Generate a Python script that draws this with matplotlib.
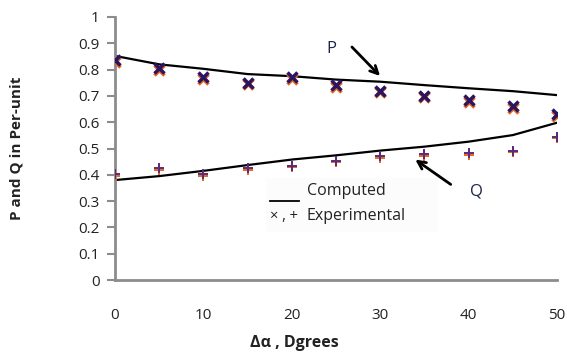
import matplotlib
matplotlib.use("Agg")
import matplotlib.pyplot as plt
import matplotlib.transforms as mtransforms
from matplotlib.patches import Rectangle

angle = [0, 5, 10, 15, 20, 25, 30, 35, 40, 45, 50]
p_computed = [0.852, 0.820, 0.803, 0.783, 0.775, 0.762, 0.754, 0.741, 0.729, 0.718, 0.703]
q_computed = [0.380, 0.395, 0.415, 0.437, 0.458, 0.474, 0.492, 0.507, 0.526, 0.551, 0.598]
p_experimental = [0.836, 0.805, 0.770, 0.750, 0.770, 0.740, 0.720, 0.700, 0.684, 0.660, 0.630]
q_experimental = [0.403, 0.424, 0.403, 0.424, 0.435, 0.453, 0.471, 0.479, 0.482, 0.492, 0.545]
x_ticks = [0, 10, 20, 30, 40, 50]
y_ticks = [0, 0.1, 0.2, 0.3, 0.4, 0.5, 0.6, 0.7, 0.8, 0.9, 1]

plt.rcParams['font.family'] = ['Open Sans', 'DejaVu Sans']

fig = plt.figure(figsize=(5.67, 3.53), dpi=100)
ax = fig.add_axes([115/567, 73/353, 442/567, 263/353])

ax.plot(angle, p_computed, color='black', lw=1.6, zorder=2)
ax.plot(angle, q_computed, color='black', lw=1.6, zorder=2)

shadow = ax.transData + mtransforms.ScaledTranslation(0, -1.5/100, fig.dpi_scale_trans)
ax.plot(angle, p_experimental, ls='none', marker='x', ms=7.5, mew=2.5, color='#e8651e', transform=shadow, zorder=3)
ax.plot(angle, p_experimental, ls='none', marker='x', ms=7.5, mew=2.5, color='#2a1660', zorder=4)
ax.plot(angle, q_experimental, ls='none', marker='+', ms=7, mew=1.4, color='#e8651e', transform=shadow, zorder=3)
ax.plot(angle, q_experimental, ls='none', marker='+', ms=7, mew=1.4, color='#5a2a78', zorder=4)

ax.set_xlim(0, 50)
ax.set_ylim(0, 1)
ax.set_xticks(x_ticks)
ax.set_yticks(y_ticks)
ax.set_yticklabels([f"{v:g}" for v in y_ticks])
for s in ['top', 'right']:
    ax.spines[s].set_visible(False)
for s in ['left', 'bottom']:
    ax.spines[s].set_color('#8c8c8c')
    ax.spines[s].set_linewidth(2)
ax.tick_params(axis='y', direction='out', length=6, width=1.5, color='#8c8c8c', labelsize=11, labelcolor='#222222', pad=5)
ax.tick_params(axis='x', length=0, labelsize=11, labelcolor='#222222', pad=20)

fig.text(17/567, 1 - 148/353, 'P and Q in Per-unit', rotation=90, ha='center', va='center', fontsize=11, fontweight='bold', color='#222222')
fig.text(294/567, 1 - 343/353, 'Δα , Dgrees', ha='center', va='center', fontsize=11.5, fontweight='bold', color='#222222')

def px(x, y):
    return (x/567, 1 - y/353)

ax.annotate('', xy=px(382, 78), xycoords='figure fraction', xytext=px(350, 45), textcoords='figure fraction',
            arrowprops=dict(arrowstyle='->', color='black', lw=2, mutation_scale=14))
fig.text(*px(331, 49), 'P', ha='center', va='center', fontsize=12, color='#1c2448')
ax.annotate('', xy=px(413, 158), xycoords='figure fraction', xytext=px(453, 186), textcoords='figure fraction',
            arrowprops=dict(arrowstyle='->', color='black', lw=2, mutation_scale=14))
fig.text(*px(476, 191), 'Q', ha='center', va='center', fontsize=12, color='#1c2448')

fig.patches.append(Rectangle(px(266, 232), 172/567, 54/353, transform=fig.transFigure, facecolor='#fcfcfc', edgecolor='none', zorder=1))
fig.lines.append(plt.Line2D([270/567, 299/567], [1 - 201/353, 1 - 201/353], transform=fig.transFigure, color='black', lw=1.3))
fig.text(*px(307, 191), 'Computed', ha='left', va='center', fontsize=11.5, color='#222222')
fig.text(*px(270, 216), '× , +', ha='left', va='center', fontsize=10.5, color='#222222')
fig.text(*px(307, 216), 'Experimental', ha='left', va='center', fontsize=11.5, color='#222222')

fig.savefig('out.png', dpi=100)
